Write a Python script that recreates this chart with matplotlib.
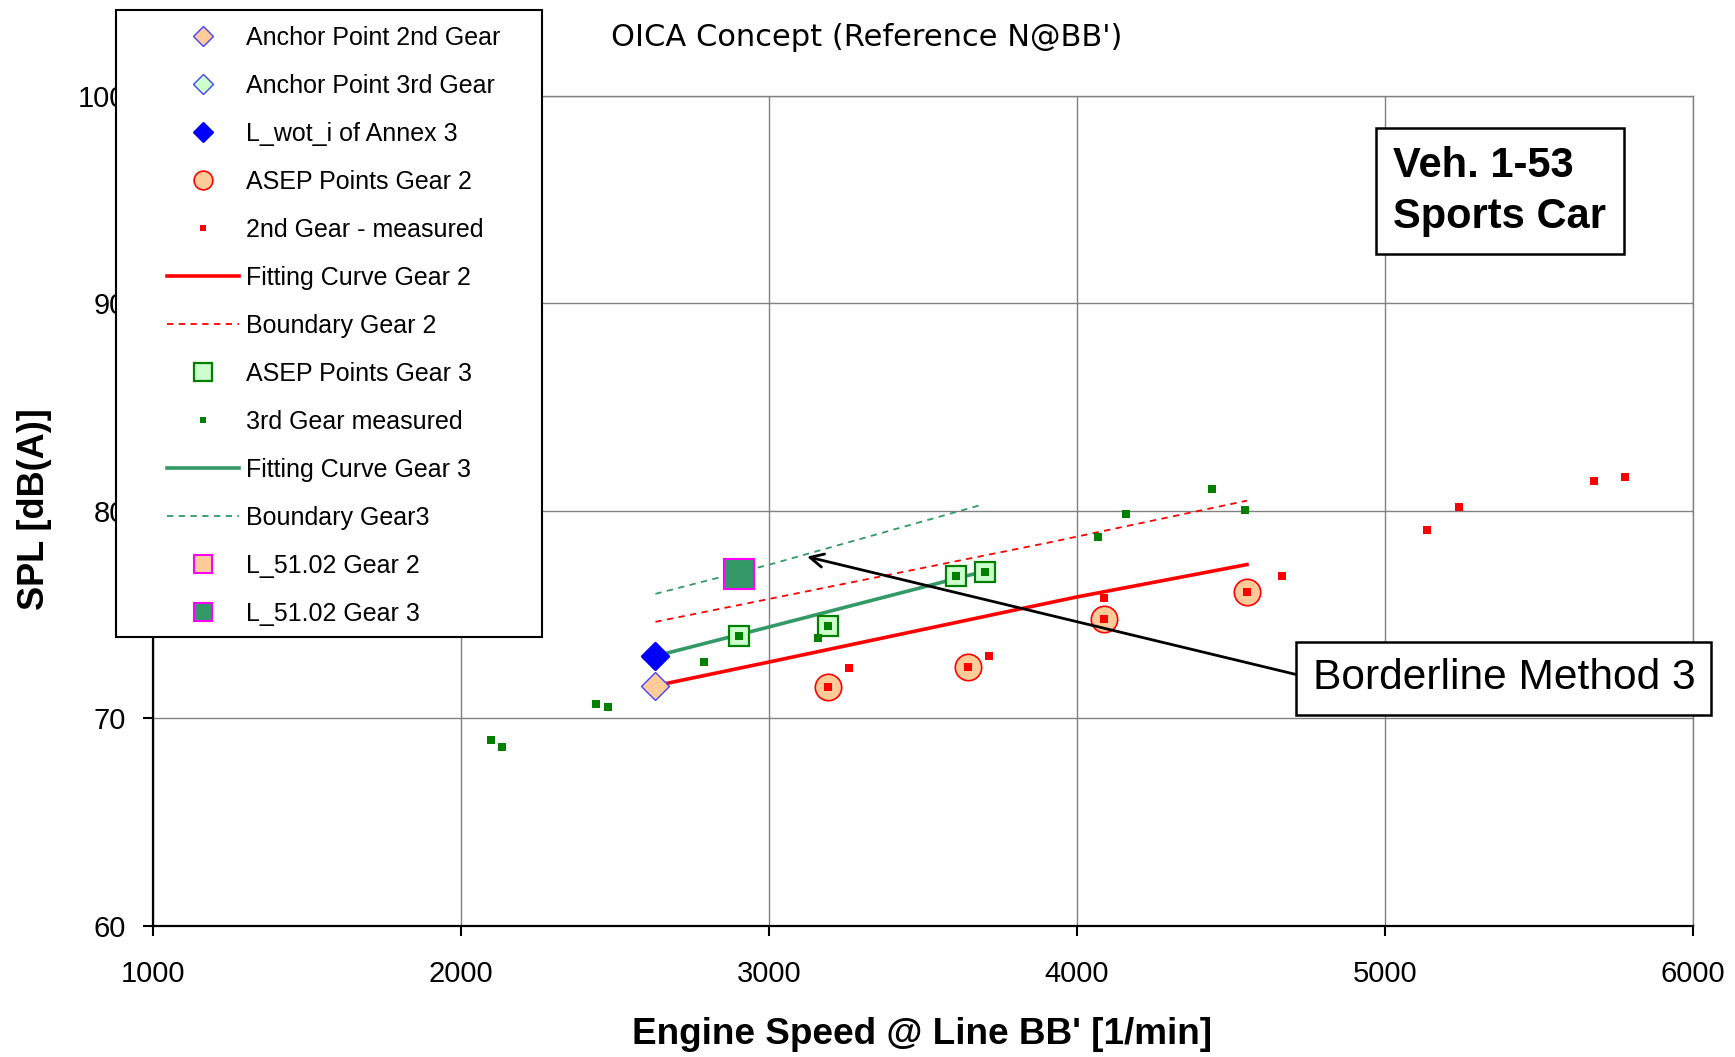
import matplotlib.pyplot as plt
from matplotlib.patches import Rectangle

plt.rcParams["font.family"] = ["Liberation Sans", "DejaVu Sans"]

# values (engine speed in 1/min, SPL in dB(A))
anchor2_x = [2632]
anchor2_y = [71.57]
anchor3_x = [2632]
anchor3_y = [73.0]
wot_x = [2632]
wot_y = [73.0]

asep2_x = [3191, 3647, 4088, 4552]
asep2_y = [71.5, 72.45, 74.8, 76.1]
gear2_x = [3191, 3259, 3647, 3715, 4088, 4088, 4552, 4666, 5136, 5242, 5680, 5780]
gear2_y = [71.5, 72.4, 72.45, 73.0, 74.8, 75.8, 76.1, 76.86, 79.1, 80.2, 81.43, 81.63]
fit2_x = [2632, 3000, 4000, 4552]
fit2_y = [71.57, 72.71, 75.85, 77.41]
bound2_x = [2632, 3000, 3918, 4552]
bound2_y = [74.65, 75.75, 78.5, 80.49]

asep3_x = [2904, 3191, 3608, 3703]
asep3_y = [73.97, 74.46, 76.84, 77.03]
gear3_x = [2097, 2135, 2440, 2478, 2789, 2904, 3160, 3191, 3608, 3703, 4070, 4158, 4439, 4546]
gear3_y = [68.95, 68.6, 70.7, 70.52, 72.7, 73.97, 73.87, 74.46, 76.84, 77.03, 78.73, 79.85, 81.07, 80.03]
fit3_x = [2632, 3000, 3703]
fit3_y = [73.0, 74.4, 77.1]
bound3_x = [2632, 3000, 3683]
bound3_y = [76.0, 77.4, 80.26]

l51_gear2_x = []
l51_gear2_y = []
l51_gear3_x = [2904]
l51_gear3_y = [76.97]

x_ticks = [1000, 2000, 3000, 4000, 5000, 6000]
y_ticks = [60, 70, 80, 90, 100]

PEACH = "#FFCC99"
LIGHTGREEN = "#CCFFCC"
GREEN = "#008000"
SEAGREEN = "#339966"
RED = "#FF0000"
BLUE = "#0000FF"
MAGENTA = "#FF00FF"

fig = plt.figure(figsize=(17.35, 10.57), dpi=100)
ax = fig.add_axes([0.0880, 0.1242, 0.8878, 0.7850])

ax.set_xlim(1000, 6000)
ax.set_ylim(60, 100)
ax.set_xticks(x_ticks)
ax.set_yticks(y_ticks)
ax.grid(True, color="#808080", lw=1.0)
ax.set_axisbelow(True)
for side in ["left", "bottom"]:
    ax.spines[side].set_color("black")
    ax.spines[side].set_linewidth(1.6)
for side in ["top", "right"]:
    ax.spines[side].set_color("#808080")
    ax.spines[side].set_linewidth(1.0)
ax.tick_params(direction="out", length=7, width=1.5, labelsize=21, colors="black")
ax.tick_params(axis="x", pad=18)
ax.tick_params(axis="y", pad=12)

# lines
h_fit2, = ax.plot(fit2_x, fit2_y, color=RED, lw=2.6, zorder=2, label="Fitting Curve Gear 2")
h_b2, = ax.plot(bound2_x, bound2_y, color=RED, lw=1.3, ls=(0, (3.5, 3)), zorder=2, label="Boundary Gear 2")
h_fit3, = ax.plot(fit3_x, fit3_y, color=SEAGREEN, lw=2.6, zorder=2, label="Fitting Curve Gear 3")
h_b3, = ax.plot(bound3_x, bound3_y, color=SEAGREEN, lw=1.3, ls=(0, (3.5, 3)), zorder=2, label="Boundary Gear3")

# markers
h_asep2, = ax.plot(asep2_x, asep2_y, ls="none", marker="o", ms=19, mfc=PEACH, mec=RED, mew=1.2,
                   zorder=3, label="ASEP Points Gear 2")
h_asep3, = ax.plot(asep3_x, asep3_y, ls="none", marker="s", ms=14.5, mfc=LIGHTGREEN, mec=GREEN, mew=1.6,
                   zorder=3, label="ASEP Points Gear 3")
h_g2, = ax.plot(gear2_x, gear2_y, ls="none", marker="s", ms=5.3, mfc=RED, mec=RED, mew=0,
                zorder=4, label="2nd Gear - measured")
h_g3, = ax.plot(gear3_x, gear3_y, ls="none", marker="s", ms=5.3, mfc=GREEN, mec=GREEN, mew=0,
                zorder=4, label="3rd Gear measured")
h_a2, = ax.plot(anchor2_x, anchor2_y, ls="none", marker="D", ms=14, mfc=PEACH, mec="#4444FF", mew=1.0,
                zorder=5, label="Anchor Point 2nd Gear")
h_a3, = ax.plot(anchor3_x, anchor3_y, ls="none", marker="D", ms=14, mfc=LIGHTGREEN, mec="#4444FF", mew=1.0,
                zorder=5, label="Anchor Point 3rd Gear")
h_wot, = ax.plot(wot_x, wot_y, ls="none", marker="D", ms=14, mfc=BLUE, mec=BLUE, mew=1.0,
                 zorder=6, label="L_wot_i of Annex 3")
h_l2, = ax.plot(l51_gear2_x, l51_gear2_y, ls="none", marker="s", ms=21, mfc=PEACH, mec=MAGENTA, mew=1.5,
                zorder=5, label="L_51.02 Gear 2")
h_l3, = ax.plot(l51_gear3_x, l51_gear3_y, ls="none", marker="s", ms=21, mfc=SEAGREEN, mec=MAGENTA, mew=1.5,
                zorder=5, label="L_51.02 Gear 3")

ax.text(5027, 95.4, "Veh. 1-53\nSports Car", fontsize=30, fontweight="bold", ha="left", va="center",
        linespacing=1.36, zorder=7,
        bbox=dict(boxstyle="square,pad=0.42", fc="white", ec="black", lw=1.8))

ax.annotate("Borderline Method 3", xy=(3124, 77.79), xytext=(4765, 71.92), fontsize=30.6,
            ha="left", va="center", zorder=7,
            bbox=dict(boxstyle="square,pad=0.38", fc="white", ec="black", lw=1.8),
            arrowprops=dict(arrowstyle="->", color="black", lw=2.0, relpos=(0, 0.5),
                            mutation_scale=24, shrinkA=0, shrinkB=0))

# legend with its own frame, overlapping the axes like the original
frame = Rectangle((116 / 1735, 1 - 637 / 1057), (542 - 116) / 1735, (637 - 10) / 1057,
                  transform=fig.transFigure, fc="white", ec="black", lw=1.5, zorder=4)
fig.add_artist(frame)

handles = [h_a2, h_a3, h_wot, h_asep2, h_g2, h_fit2, h_b2, h_asep3, h_g3, h_fit3, h_b3, h_l2, h_l3]
leg = fig.legend(handles, [h.get_label() for h in handles], loc="upper left",
                 bbox_to_anchor=(167 / 1735, 1 - 26 / 1057), frameon=False, borderpad=0,
                 borderaxespad=0, labelspacing=0.96, handlelength=2.88, handletextpad=0.28,
                 numpoints=1, fontsize=18)
leg.set_zorder(5)
legend_sizes = [10, 10, 10, 13.5, 4.8, None, None, 13, 4.8, None, None, 13, 13]
for lh, size in zip(leg.legend_handles, legend_sizes):
    if size is not None:
        lh.set_markersize(size)

fig.text(867 / 1735, 1 - 37 / 1057, "OICA Concept (Reference N@BB')", fontsize=22,
         family=["DejaVu Sans"], ha="center", va="center")
fig.text(922 / 1735, 1 - 1035 / 1057, "Engine Speed @ Line BB' [1/min]", fontsize=26.6,
         fontweight="bold", ha="center", va="center")
fig.text(35 / 1735, 1 - 509 / 1057, "SPL [dB(A)]", fontsize=26, fontweight="bold",
         rotation=90, ha="center", va="center")

fig.savefig("out.png", dpi=100)
